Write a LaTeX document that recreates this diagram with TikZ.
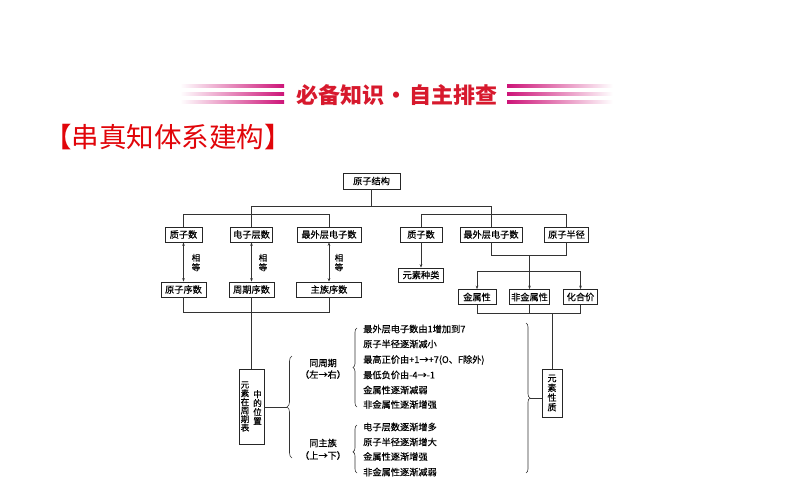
\documentclass[tikz,border=0pt]{standalone}
\usepackage{fontspec}
\usetikzlibrary{arrows.meta,decorations.pathreplacing}
\newfontfamily\cjk{Noto Sans CJK SC}
\newfontfamily\cjkd[FakeBold=0.35]{Noto Sans CJK SC}
\definecolor{titlered}{RGB}{215,25,45}
\definecolor{barmag}{RGB}{205,20,120}
\definecolor{headred}{RGB}{225,5,10}
\begin{document}
\begin{tikzpicture}[x=1pt,y=-1pt,
  box/.style={draw=black!85,line width=0.7pt,font=\cjkd\fontsize{9.2}{10}\selectfont,inner sep=1pt,minimum height=15pt},
  conn/.style={draw=black!80,line width=0.7pt},
  arr/.style={conn,-{Stealth[length=3.5pt,width=2.6pt]}},
  darr/.style={conn,{Stealth[length=3.5pt,width=2.6pt]}-{Stealth[length=3.5pt,width=2.6pt]}},
  txt/.style={font=\cjkd\fontsize{9.2}{10}\selectfont,inner sep=0pt},
  small/.style={font=\cjkd\fontsize{8.5}{9.5}\selectfont,inner sep=0pt,align=center},
  brc/.style={conn,line width=0.6pt,decorate,decoration={brace,amplitude=4pt}},
]
\useasboundingbox (0,0) rectangle (794,495);
\fill[white] (0,0) rectangle (794,495);

% header bars
\foreach \yy in {86,94,102} {
  \shade[left color=white,right color=barmag] (180,\yy-1.5) rectangle (284,\yy+1.5);
  \shade[left color=barmag,right color=white] (507,\yy-1.5) rectangle (613,\yy+1.5);
}
\node[font=\cjk\bfseries\fontsize{22}{24}\selectfont,text=titlered,inner sep=0pt] (title) at (397,95) {必备知识\hspace{2pt}・\hspace{2pt}自主排查};
\node[font=\cjk\fontsize{27.5}{30}\selectfont,text=headred,inner sep=0pt] (head) at (168,137) {【串真知体系建构】};

% top
\node[box,minimum width=57pt,minimum height=16pt] (yzjg) at (371.5,181) {原子结构};
\coordinate (h0) at (0,206);
\coordinate (h1) at (0,214);
\coordinate (h2) at (0,312);
\coordinate (h3) at (0,255);
\coordinate (h4) at (0,271);
\coordinate (h5) at (0,313);

% left subtree
\node[box,minimum width=37pt] (L1) at (183.5,234.5) {质子数};
\node[box,minimum width=42pt] (L2) at (251.5,234.5) {电子层数};
\node[box,minimum width=64pt] (L3) at (329,234.5) {最外层电子数};
\node[box,minimum width=45pt] (M1) at (183.5,289.5) {原子序数};
\node[box,minimum width=45pt] (M2) at (251.5,289.5) {周期序数};
\node[box,minimum width=65pt] (M3) at (329,289.5) {主族序数};
\node[small] (x1) at (196,262.5) {相\\等};
\node[small] (x2) at (263,262.5) {相\\等};
\node[small] (x3) at (339,262.5) {相\\等};

% right subtree
\node[box,minimum width=42pt] (R1) at (421,234.5) {质子数};
\node[box,minimum width=62pt] (R2) at (491,234.5) {最外层电子数};
\node[box,minimum width=44pt] (R3) at (566.5,234.5) {原子半径};
\node[box,minimum width=45pt,minimum height=14pt] (ysl) at (421,275) {元素种类};
\node[box,minimum width=38pt] (jsx) at (477,297) {金属性};
\node[box,minimum width=40pt] (fjsx) at (529.5,297) {非金属性};
\node[box,minimum width=34pt] (hhj) at (580.5,297) {化合价};

% connectors top
\draw[conn] (yzjg.south) -- (yzjg.south |- h0);
\draw[conn] (L2.north) |- (R2.north |- h0) -- (R2.north);
\draw[conn] (L1.north) |- (L3.north |- h1) -- (L3.north);
\draw[conn] (R1.north) |- (R3.north |- h1) -- (R3.north);
\draw[darr] (L1) -- (M1);
\draw[darr] (L2) -- (M2);
\draw[darr] (L3) -- (M3);
\draw[conn] (M1.south) |- (M3.south |- h2) -- (M3.south);

\draw[arr] (R1) -- (ysl);
\draw[conn] (R2.south) |- (R3.south |- h3) -- (R3.south);
\coordinate (j3) at (529.5,255);
\draw[arr] (j3) -- (fjsx.north);
\draw[conn] (jsx.north |- h4) -- (hhj.north |- h4);
\draw[arr] (jsx.north |- h4) -- (jsx.north);
\draw[arr] (hhj.north |- h4) -- (hhj.north);
\draw[conn] (jsx.south) |- (hhj.south |- h5) -- (hhj.south);
\draw[conn] (fjsx.south) -- (fjsx.south |- h5);

% position box
\node[box,minimum width=25pt,minimum height=75pt] (wz) at (251.5,407) {};
\node[font=\cjkd\fontsize{8.6}{8.6}\selectfont,inner sep=0pt,align=center] (wzl) at (245,406.5) {元\\素\\在\\周\\期\\表};
\node[font=\cjkd\fontsize{8.6}{9}\selectfont,inner sep=0pt,align=center] (wzr) at (257.5,407.5) {中\\的\\位\\置};
\draw[conn] (M2.south) -- (wz.north);

% property box
\node[box,minimum width=20pt,minimum height=48pt,align=center,font=\cjkd\fontsize{9}{9.7}\selectfont] (xz) at (552,393) {元\\素\\性\\质};
\draw[conn] (xz.north |- h5) -- (xz.north);

% braces
\draw[brc,decoration={brace,amplitude=5pt}] (292,458) -- (292,356);
\coordinate (bt1) at (287,407);
\draw[conn] (wz.east) -- (bt1);
\draw[brc] (357,407) -- (357,328);
\draw[brc,decoration={brace,amplitude=4pt,aspect=0.44}] (357,473) -- (357,425);
\draw[brc,decoration={brace,amplitude=4pt}] (526,323) -- (526,473);
\coordinate (bt4) at (530,398);
\draw[conn] (bt4) -- (bt4 -| xz.west);

% group labels
\node[txt] (g1a) at (323,363) {同周期};
\node[txt] (g1b) at (323,374.5) {（左→右）};
\node[txt] (g2a) at (323,443) {同主族};
\node[txt] (g2b) at (323,455.5) {（上→下）};

% items
\node[txt,anchor=west] (a1) at (363,329) {最外层电子数由1增加到7};
\node[txt,anchor=west] (a2) at (363,344) {原子半径逐渐减小};
\node[txt,anchor=west] (a3) at (363,360) {最高正价由+1→+7(O、F除外)};
\node[txt,anchor=west] (a4) at (363,375) {最低负价由-4→-1};
\node[txt,anchor=west] (a5) at (363,390) {金属性逐渐减弱};
\node[txt,anchor=west] (a6) at (363,404.5) {非金属性逐渐增强};
\node[txt,anchor=west] (b1) at (363,427) {电子层数逐渐增多};
\node[txt,anchor=west] (b2) at (363,442) {原子半径逐渐增大};
\node[txt,anchor=west] (b3) at (363,456.5) {金属性逐渐增强};
\node[txt,anchor=west] (b4) at (363,472) {非金属性逐渐减弱};
\end{tikzpicture}
\end{document}
